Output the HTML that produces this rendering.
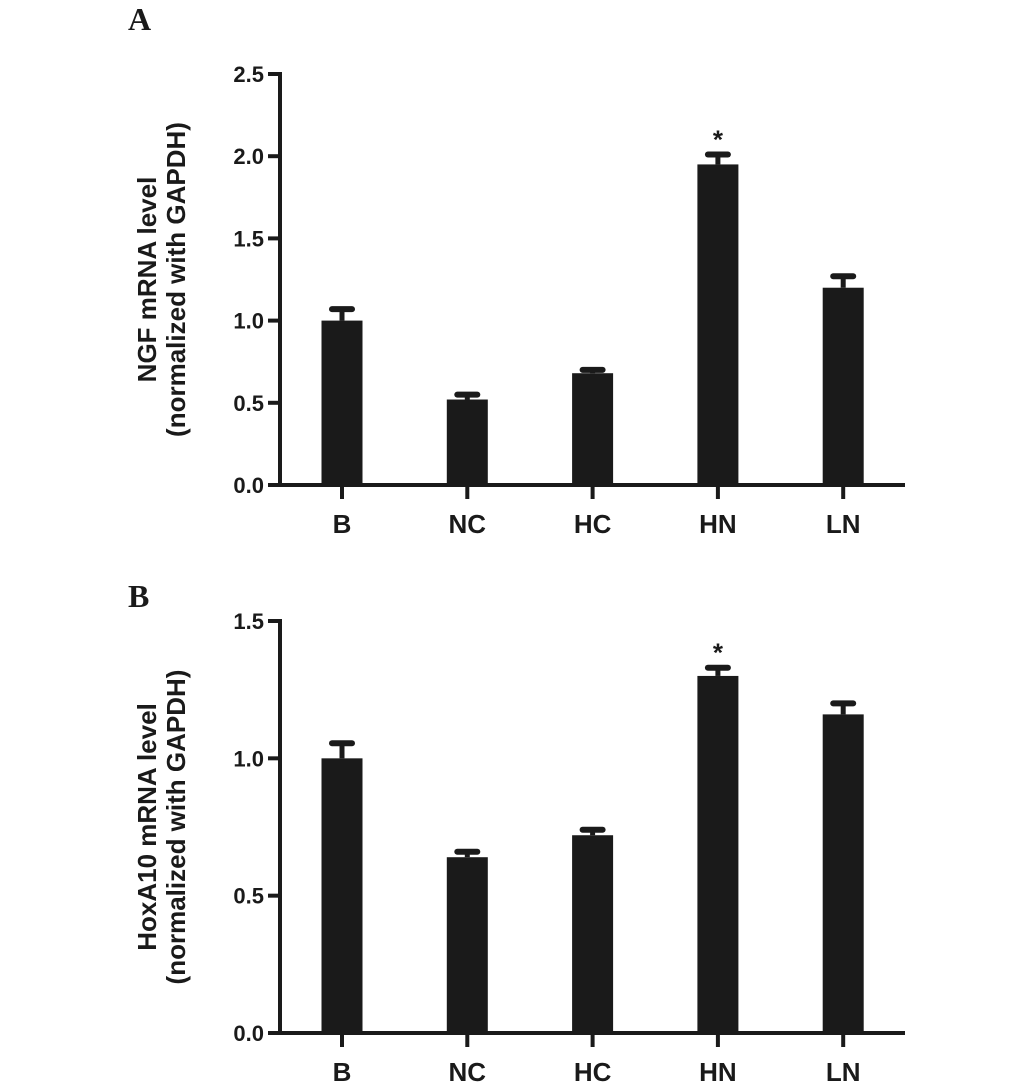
<!DOCTYPE html>
<html><head><meta charset="utf-8"><style>
body{margin:0;background:#fff;}
svg text{font-family:"Liberation Sans",Arial,sans-serif;font-weight:bold;fill:#1a1a1a;}
</style></head><body>
<svg width="1033" height="1085" xmlns="http://www.w3.org/2000/svg" id="chart"></svg>
<script>
const categories=["B","NC","HC","HN","LN"];
const valuesA=[1.0,0.52,0.68,1.95,1.2];
const errorsA=[0.07,0.03,0.02,0.06,0.07];
const valuesB=[1.0,0.64,0.72,1.30,1.16];
const errorsB=[0.055,0.02,0.02,0.03,0.04];
const ticksA=[0,0.5,1.0,1.5,2.0,2.5];
const ticksB=[0,0.5,1.0,1.5];
const starsA=[false,false,false,true,false];
const starsB=[false,false,false,true,false];
const NS="http://www.w3.org/2000/svg";
const svg=document.getElementById('chart');
function mk(tag,attrs,parent){const e=document.createElementNS(NS,tag);for(const k in attrs)e.setAttribute(k,attrs[k]);(parent||svg).appendChild(e);return e;}
function panel(p){
  const g=mk('g',{});
  
  
  const y=v=>p.y0-(v/p.max)*(p.y0-p.yTop);
  const x=i=>p.x0+62+i*125.3;
  const col='#1a1a1a';
  const lbl=mk('text',{x:128,y:p.labelY,'font-size':32},g);
  lbl.textContent=p.label;lbl.style.fontFamily='"Liberation Serif",serif';
  
  
  const ax=mk('line',{x1:p.x0,y1:p.yTop-2,x2:p.x0,y2:p.y0+2,stroke:col,'stroke-width':4},g);
  
  
  const xx=mk('line',{x1:p.x0-2,y1:p.y0,x2:905,y2:p.y0,stroke:col,'stroke-width':4},g);
  
  
  p.ticks.forEach(t=>{
    mk('line',{x1:p.x0-12,y1:y(t),x2:p.x0,y2:y(t),stroke:col,'stroke-width':4},g);
    const tx=mk('text',{x:p.x0-16,y:y(t)+8,'font-size':22,'text-anchor':'end'},g);
    tx.textContent=t.toFixed(1);
    
    
  });
  categories.forEach((c,i)=>{
    const cx=x(i),v=p.vals[i],e=p.errs[i];
    mk('line',{x1:cx,y1:p.y0,x2:cx,y2:p.y0+14,stroke:col,'stroke-width':4},g);
    const r=mk('rect',{x:cx-20.5,y:y(v),width:41,height:p.y0-y(v),fill:col},g);
    
    
    mk('line',{x1:cx,y1:y(v),x2:cx,y2:y(v+e),stroke:col,'stroke-width':5},g);
    mk('line',{x1:cx-10,y1:y(v+e),x2:cx+10,y2:y(v+e),stroke:col,'stroke-width':6,'stroke-linecap':'round'},g);
    const t=mk('text',{x:cx,y:p.y0+48,'font-size':26,'text-anchor':'middle'},g);
    t.textContent=c;
    
    
    if(p.stars[i]){const s=mk('text',{x:cx,y:y(v+e)-6,'font-size':26,'text-anchor':'middle'},g);s.textContent='*';
      
      }
  });
  const my=(p.yTop+p.y0)/2;
  const t1=mk('text',{x:0,y:0,'font-size':26,'text-anchor':'middle',transform:`translate(156,${my}) rotate(-90)`},g);
  t1.textContent=p.title;
  
  
  const t2=mk('text',{x:0,y:0,'font-size':26,'text-anchor':'middle',transform:`translate(185,${my}) rotate(-90)`},g);
  t2.textContent='(normalized with GAPDH)';
  
  
}
panel({label:'A',labelY:30,x0:280,y0:485,yTop:74,max:2.5,ticks:ticksA,vals:valuesA,errs:errorsA,stars:starsA,title:'NGF mRNA level'});
panel({label:'B',labelY:607,x0:280,y0:1033,yTop:621,max:1.5,ticks:ticksB,vals:valuesB,errs:errorsB,stars:starsB,title:'HoxA10 mRNA level'});
</script>
</body></html>
